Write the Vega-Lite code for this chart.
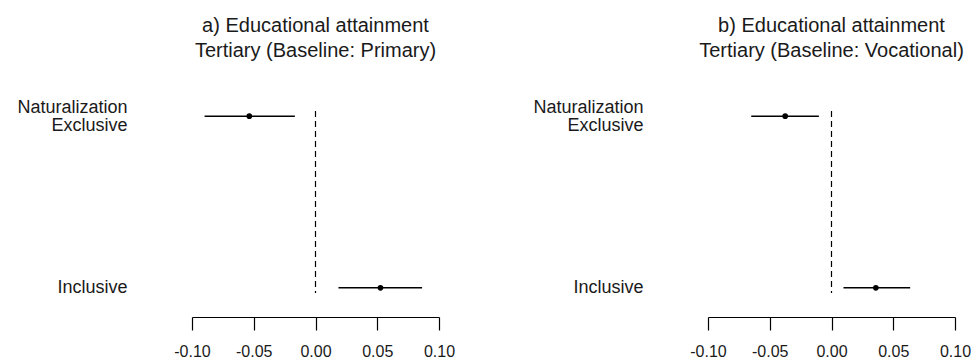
{
  "$schema": "https://vega.github.io/schema/vega-lite/v6.json",
  "padding": {"left": 16, "top": 16, "right": 0, "bottom": 0},
  "background": "white",
  "datasets": {
    "est": [
      {"panel": "a", "term": "Exclusive", "est": -0.0536, "lo": -0.0898, "hi": -0.0167},
      {"panel": "a", "term": "Inclusive", "est": 0.0526, "lo": 0.0186, "hi": 0.0863},
      {"panel": "b", "term": "Exclusive", "est": -0.0375, "lo": -0.065, "hi": -0.0102},
      {"panel": "b", "term": "Inclusive", "est": 0.0359, "lo": 0.0097, "hi": 0.0637}
    ],
    "ref": [{"ref": 0}]
  },
  "config": {
    "font": "Liberation Sans",
    "view": {"stroke": null},
    "title": {"fontSize": 20, "fontWeight": "normal", "font": "Liberation Sans", "lineHeight": 25, "anchor": "middle", "offset": 37, "color": "#1a1a1a"},
    "axisX": {
      "title": null, "grid": false,
      "domain": true, "domainColor": "black", "domainWidth": 1.2, "tickColor": "black", "tickWidth": 1.2, "tickSize": 13,
      "offset": 24, "labelFontSize": 16, "labelColor": "#1a1a1a", "labelPadding": 13, "labelFont": "Liberation Sans", "labelFlush": false
    },
    "axisY": {
      "title": null, "ticks": false, "domain": false, "grid": false, "labelPadding": 65, "labelFontSize": 18,
      "labelLineHeight": 18, "labelColor": "#1a1a1a", "labelFont": "Liberation Sans"
    }
  },
  "bounds": "flush",
  "spacing": 269,
  "hconcat": [
    {
      "width": 247, "height": 182,
      "title": {"text": ["a) Educational attainment", "Tertiary (Baseline: Primary)"]},
      "layer": [
        {
          "data": {"name": "ref"},
          "mark": {"type": "rule", "strokeDash": [6, 4], "color": "black", "strokeWidth": 1.2},
          "encoding": {"x": {"field": "ref", "type": "quantitative", "scale": {"domain": [-0.1, 0.1], "nice": false},
            "axis": {"values": [-0.1, -0.05, 0, 0.05, 0.1], "labelExpr": "replace(format(datum.value, '.2f'), '\u2212', '-')"}}}
        },
        {
          "data": {"name": "est"},
          "transform": [{"filter": "datum.panel == 'a'"}],
          "mark": {"type": "rule", "color": "black", "strokeWidth": 1.5},
          "encoding": {
            "x": {"field": "lo", "type": "quantitative"},
            "x2": {"field": "hi"},
            "y": {"field": "term", "type": "nominal", "scale": {"type": "point", "domain": ["Exclusive", "Inclusive"], "padding": 0.03},
              "axis": {"labelExpr": "datum.value == 'Exclusive' ? ['Naturalization', 'Exclusive'] : datum.value",
                "labelOffset": {"condition": {"test": "datum.value == 'Exclusive'", "value": -9}, "value": 0}}}
          }
        },
        {
          "data": {"name": "est"},
          "transform": [{"filter": "datum.panel == 'a'"}],
          "mark": {"type": "circle", "color": "black", "opacity": 1, "size": 32},
          "encoding": {
            "x": {"field": "est", "type": "quantitative"},
            "y": {"field": "term", "type": "nominal"}
          }
        }
      ]
    },
    {
      "width": 247, "height": 182,
      "title": {"text": ["b) Educational attainment", "Tertiary (Baseline: Vocational)"]},
      "layer": [
        {
          "data": {"name": "ref"},
          "mark": {"type": "rule", "strokeDash": [6, 4], "color": "black", "strokeWidth": 1.2},
          "encoding": {"x": {"field": "ref", "type": "quantitative", "scale": {"domain": [-0.1, 0.1], "nice": false},
            "axis": {"values": [-0.1, -0.05, 0, 0.05, 0.1], "labelExpr": "replace(format(datum.value, '.2f'), '\u2212', '-')"}}}
        },
        {
          "data": {"name": "est"},
          "transform": [{"filter": "datum.panel == 'b'"}],
          "mark": {"type": "rule", "color": "black", "strokeWidth": 1.5},
          "encoding": {
            "x": {"field": "lo", "type": "quantitative"},
            "x2": {"field": "hi"},
            "y": {"field": "term", "type": "nominal", "scale": {"type": "point", "domain": ["Exclusive", "Inclusive"], "padding": 0.03},
              "axis": {"labelExpr": "datum.value == 'Exclusive' ? ['Naturalization', 'Exclusive'] : datum.value",
                "labelOffset": {"condition": {"test": "datum.value == 'Exclusive'", "value": -9}, "value": 0}}}
          }
        },
        {
          "data": {"name": "est"},
          "transform": [{"filter": "datum.panel == 'b'"}],
          "mark": {"type": "circle", "color": "black", "opacity": 1, "size": 32},
          "encoding": {
            "x": {"field": "est", "type": "quantitative"},
            "y": {"field": "term", "type": "nominal"}
          }
        }
      ]
    }
  ]
}
